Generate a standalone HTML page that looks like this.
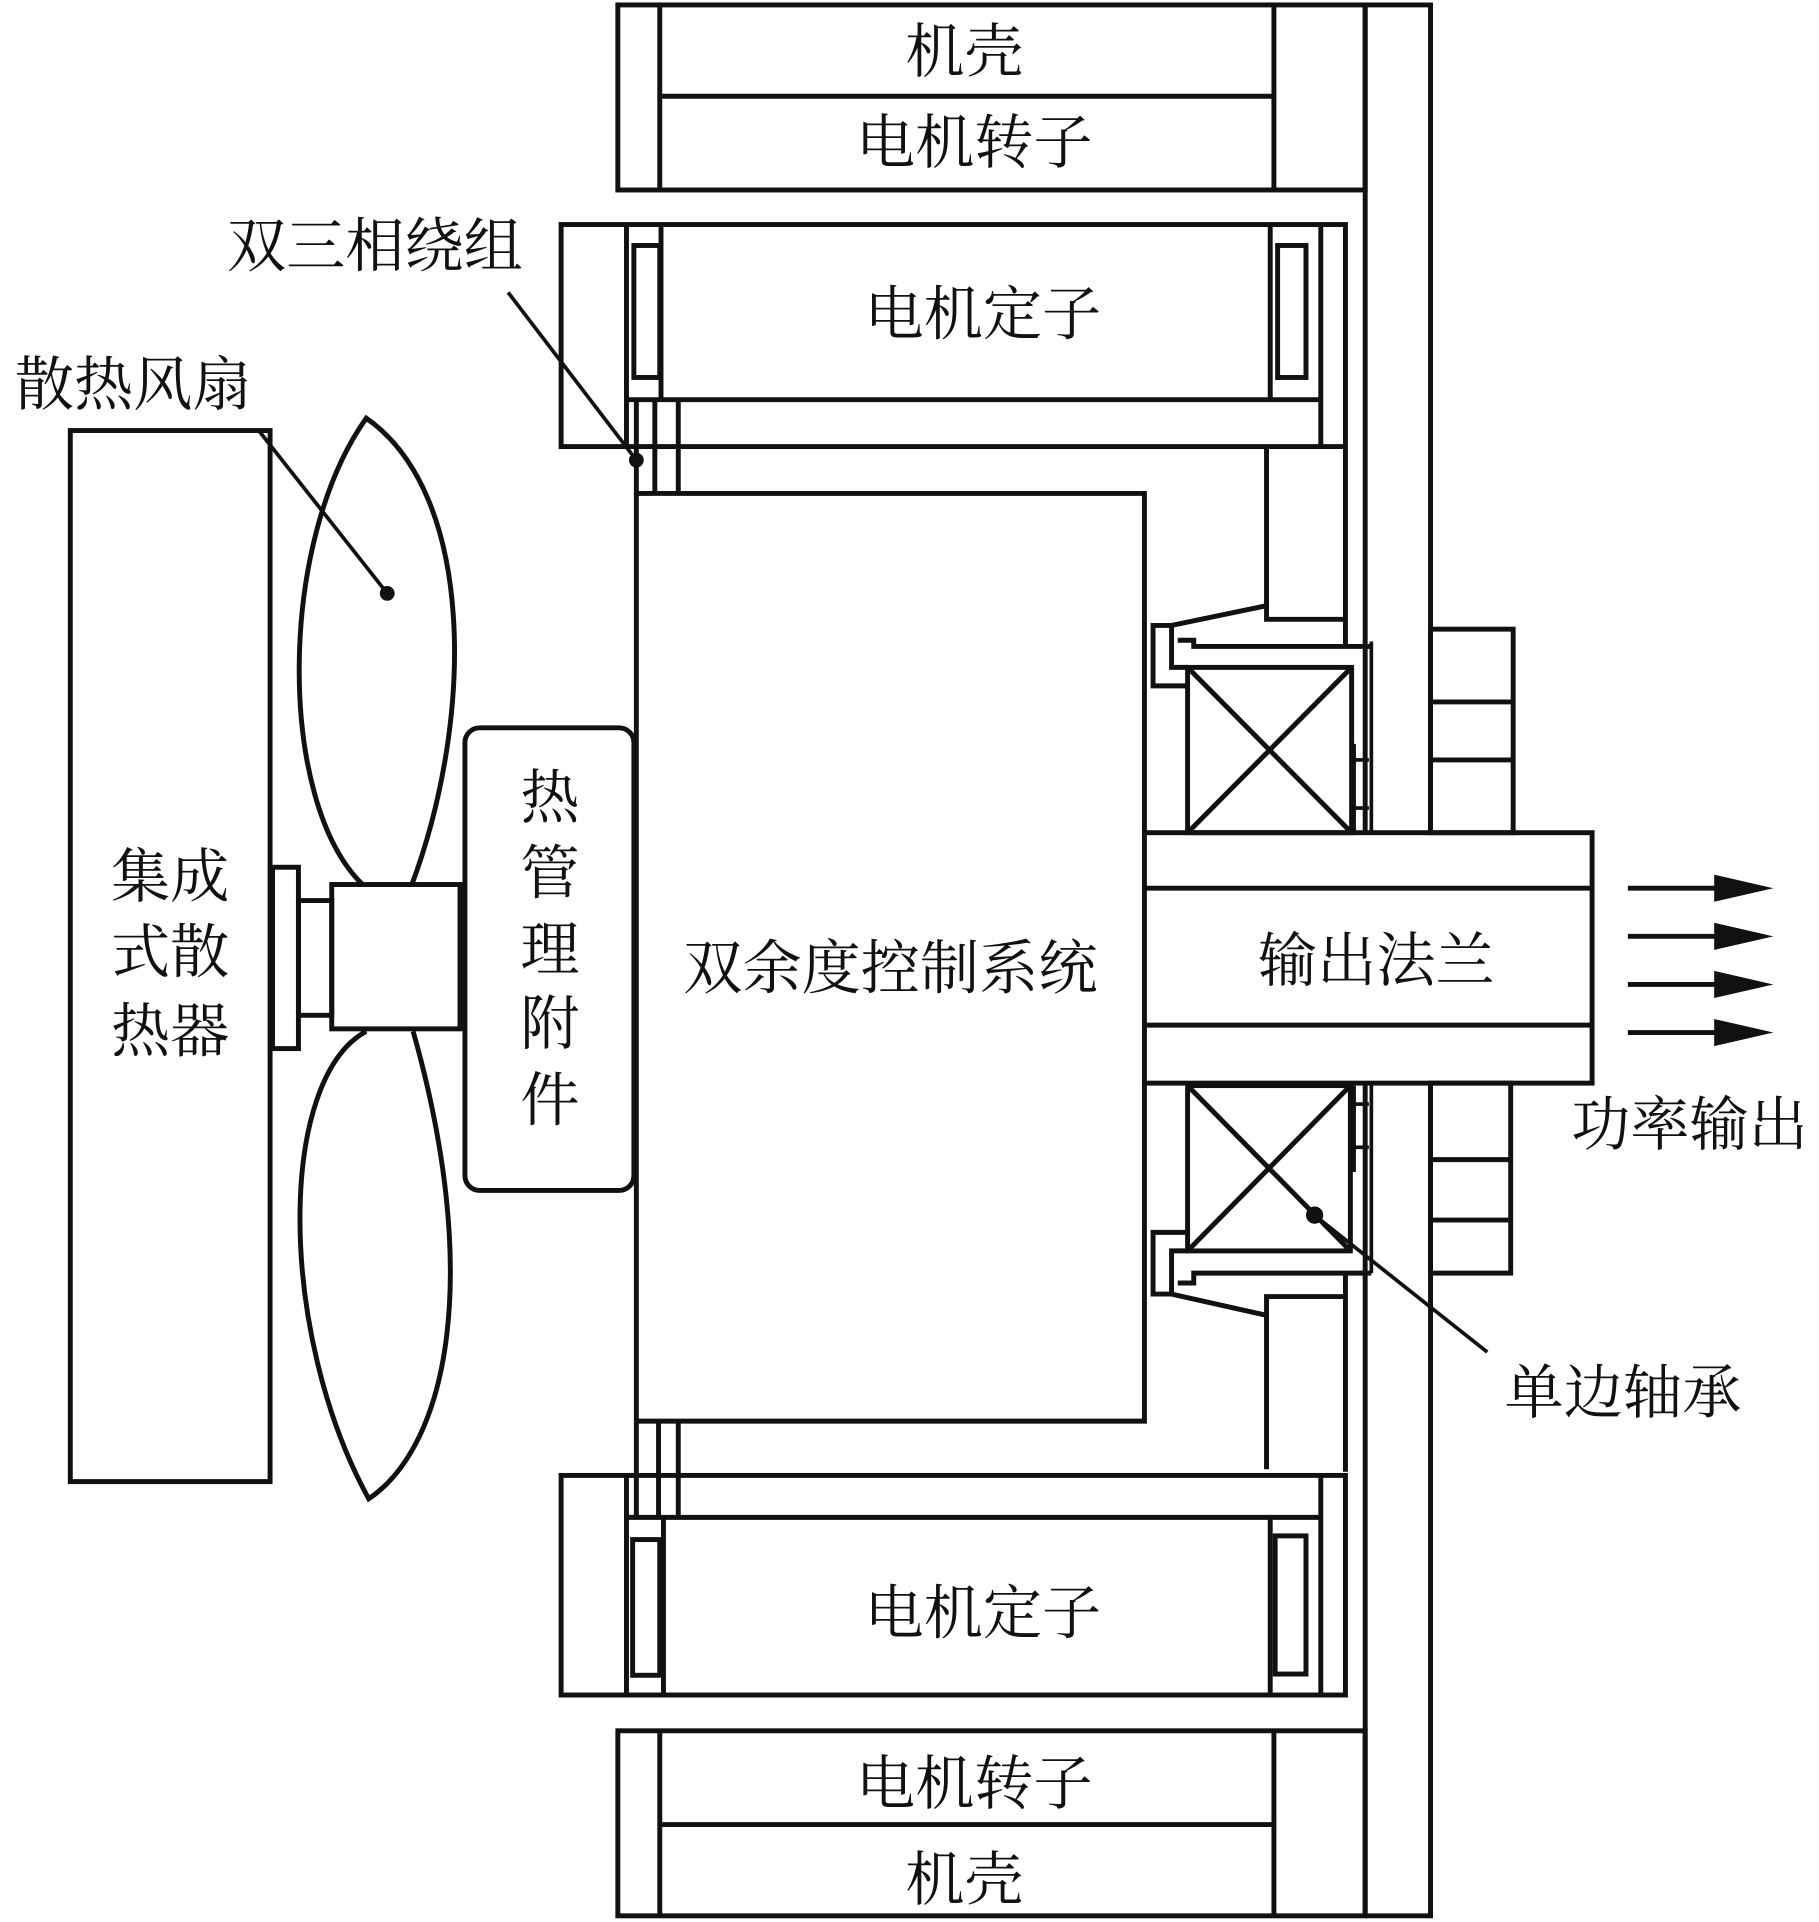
<!DOCTYPE html>
<html><head><meta charset="utf-8"><style>
html,body{margin:0;padding:0;background:#fff;}
svg{display:block;}
text{font-family:"Liberation Serif","Noto Serif CJK SC","Noto Sans CJK SC",serif;fill:#111;}
</style></head><body>
<svg width="1819" height="1922" viewBox="0 0 1475 1558" preserveAspectRatio="none" xmlns="http://www.w3.org/2000/svg">
<g fill="none" stroke="#111" stroke-width="4" stroke-linejoin="miter">
<!-- top housing / rotor -->
<rect x="501" y="4" width="606" height="150"/>
<line x1="535" y1="4" x2="535" y2="154"/>
<line x1="1033" y1="4" x2="1033" y2="154"/>
<line x1="535" y1="78" x2="1033" y2="78"/>
<!-- plate -->
<polyline points="1107,4 1160,4 1160,675"/>
<line x1="1107" y1="4" x2="1107" y2="675"/>
<line x1="1112" y1="520" x2="1112" y2="675" stroke-width="3"/>
<!-- top stator -->
<rect x="455" y="182" width="636" height="180"/>
<line x1="508" y1="182" x2="508" y2="362"/>
<line x1="536" y1="182" x2="536" y2="324"/>
<line x1="1030" y1="182" x2="1030" y2="324"/>
<line x1="1071" y1="182" x2="1071" y2="362"/>
<line x1="508" y1="324" x2="1071" y2="324"/>
<rect x="514" y="199" width="21" height="107"/>
<rect x="1036" y="199" width="23" height="107"/>
<line x1="516" y1="324" x2="516" y2="400"/>
<line x1="531" y1="324" x2="531" y2="400"/>
<line x1="550" y1="324" x2="550" y2="400"/>
<line x1="1091" y1="362" x2="1091" y2="524"/>
<!-- control box -->
<polyline points="516,400 928,400 928,675"/>
<line x1="516" y1="400" x2="516" y2="1152"/>
<polyline points="928,878 928,1152 516,1152"/>
<!-- upper block & seal -->
<polyline points="1027,362 1027,502 1091,502"/>
<polyline points="1027,491 950,507 935,507 935,556 963,556"/>
<polyline points="950,507 950,541 963,541"/>
<polyline points="955,519 968,519 968,524 1112,524"/>
<!-- upper bearing -->
<rect x="963" y="541" width="133" height="134"/>
<line x1="963" y1="541" x2="1096" y2="675"/>
<line x1="1096" y1="541" x2="963" y2="675"/>
<line x1="1098" y1="616" x2="1110" y2="616" stroke-width="3"/>
<line x1="1098" y1="655" x2="1110" y2="655" stroke-width="3"/>
<line x1="1098" y1="603" x2="1098" y2="675" stroke-width="3"/>
<!-- right blocks -->
<rect x="1160" y="510" width="67" height="165"/>
<line x1="1160" y1="569" x2="1227" y2="569"/>
<line x1="1160" y1="616" x2="1227" y2="616"/>
<rect x="1160" y="878" width="65" height="154"/>
<line x1="1160" y1="940" x2="1225" y2="940"/>
<line x1="1160" y1="989" x2="1225" y2="989"/>
<!-- output flange -->
<rect x="928" y="675" width="363" height="203"/>
<line x1="928" y1="720" x2="1291" y2="720"/>
<line x1="928" y1="831" x2="1291" y2="831"/>
<!-- lower bearing -->
<rect x="963" y="880" width="132" height="134"/>
<line x1="963" y1="880" x2="1095" y2="1014"/>
<line x1="1095" y1="880" x2="963" y2="1014"/>
<line x1="1098" y1="880" x2="1098" y2="950" stroke-width="3"/>
<line x1="1098" y1="895" x2="1110" y2="895" stroke-width="3"/>
<line x1="1098" y1="930" x2="1110" y2="930" stroke-width="3"/>
<line x1="1112" y1="878" x2="1112" y2="1032" stroke-width="3"/>
<!-- lower seal & block -->
<polyline points="963,999 935,999 935,1049 950,1049 1026,1066"/>
<polyline points="950,1049 950,1014 963,1014"/>
<polyline points="955,1040 968,1040 968,1032 1112,1032"/>
<polyline points="1091,1032 1091,1193"/>
<polyline points="1027,1191 1027,1051 1091,1051"/>
<!-- plate lower -->
<line x1="1107" y1="878" x2="1107" y2="1553"/>
<polyline points="1160,878 1160,1553 1107,1553"/>
<!-- lower stator -->
<line x1="516" y1="1152" x2="516" y2="1230"/>
<line x1="534" y1="1152" x2="534" y2="1230"/>
<line x1="550" y1="1152" x2="550" y2="1230"/>
<rect x="455" y="1196" width="636" height="178"/>
<line x1="508" y1="1196" x2="508" y2="1374"/>
<line x1="508" y1="1230" x2="1071" y2="1230"/>
<line x1="538" y1="1230" x2="538" y2="1374"/>
<line x1="1030" y1="1230" x2="1030" y2="1374"/>
<line x1="1071" y1="1196" x2="1071" y2="1374"/>
<rect x="513" y="1248" width="22" height="110"/>
<rect x="1034" y="1245" width="25" height="112"/>
<!-- lower housing -->
<rect x="501" y="1403" width="606" height="150"/>
<line x1="535" y1="1403" x2="535" y2="1553"/>
<line x1="1033" y1="1403" x2="1033" y2="1553"/>
<line x1="535" y1="1479" x2="1033" y2="1479"/>
<!-- heatsink -->
<rect x="57" y="349" width="162" height="852"/>
<rect x="221" y="703" width="21" height="147"/>
<rect x="242" y="730" width="27" height="93"/>
<rect x="269" y="717" width="104" height="117"/>
<!-- heat pipe -->
<rect x="377" y="590" width="137" height="375" rx="12"/>
<!-- fan blades -->
<path d="M294 717 C225 650,225 440,297 339 C385 400,385 580,334 717"/>
<path d="M297 836 C225 875,225 1080,299 1215 C365 1170,390 1030,335 836"/>
<!-- leaders -->
<line x1="209" y1="348" x2="314" y2="481" stroke-width="3"/>
<line x1="412" y1="237" x2="516" y2="373" stroke-width="3"/>
<line x1="1062" y1="982" x2="1206" y2="1096" stroke-width="3"/>
<!-- arrows -->
<line x1="1320" y1="720" x2="1395" y2="720"/>
<line x1="1320" y1="759" x2="1395" y2="759"/>
<line x1="1320" y1="798" x2="1395" y2="798"/>
<line x1="1320" y1="837" x2="1395" y2="837"/>
</g>
<g fill="#111">
<circle cx="314" cy="481" r="6"/>
<circle cx="516" cy="373" r="6"/>
<circle cx="1066" cy="985" r="7"/>
<polygon points="1390,709 1438,720 1390,731"/>
<polygon points="1390,748 1438,759 1390,770"/>
<polygon points="1390,787 1438,798 1390,809"/>
<polygon points="1390,826 1438,837 1390,848"/>
</g>
<g font-size="48" text-anchor="middle" dominant-baseline="central">
<text x="782" y="42">机壳</text>
<text x="790" y="116">电机转子</text>
<text x="797" y="255">电机定子</text>
<text x="722" y="785">双余度控制系统</text>
<text x="1116" y="779">输出法兰</text>
<text x="797" y="1308">电机定子</text>
<text x="790" y="1446">电机转子</text>
<text x="782" y="1524">机壳</text>
<text x="304" y="200">双三相绕组</text>
<text x="108" y="312">散热风扇</text>
<text x="1370" y="912">功率输出</text>
<text x="1316" y="1129">单边轴承</text>
<text x="138" y="711">集成</text>
<text x="138" y="772">式散</text>
<text x="138" y="836">热器</text>
<text x="446" y="647">热</text>
<text x="446" y="708">管</text>
<text x="446" y="770">理</text>
<text x="446" y="830">附</text>
<text x="446" y="892">件</text>
</g>
</svg>
</body></html>
